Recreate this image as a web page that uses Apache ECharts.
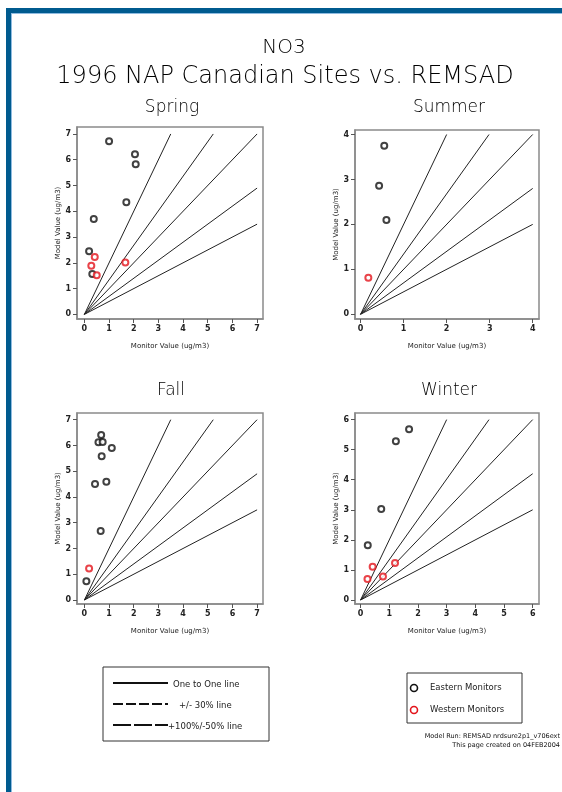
<!DOCTYPE html>
<html><head><meta charset="utf-8">
<script src="https://cdn.jsdelivr.net/npm/echarts@6/dist/echarts.min.js"></script>
<style>html,body{margin:0;padding:0;background:#fff}#c{width:562px;height:792px}</style>
</head><body><div id="c"></div>
<script>
const panelTitles = ['Spring', 'Summer', 'Fall', 'Winter'];
const panelMax = [7, 4, 7, 6];
const springTicks = [0, 1, 2, 3, 4, 5, 6, 7];
const summerTicks = [0, 1, 2, 3, 4];
const fallTicks = [0, 1, 2, 3, 4, 5, 6, 7];
const winterTicks = [0, 1, 2, 3, 4, 5, 6];
const springEast = [[1.0, 6.72], [2.05, 6.21], [2.08, 5.82], [1.70, 4.35], [0.38, 3.70], [0.19, 2.45], [0.32, 1.57]];
const springWest = [[0.42, 2.23], [0.28, 1.89], [0.50, 1.52], [1.66, 2.01]];
const summerEast = [[0.55, 3.75], [0.43, 2.86], [0.60, 2.10]];
const summerWest = [[0.18, 0.81]];
const fallEast = [[0.68, 6.41], [0.57, 6.12], [0.74, 6.13], [1.11, 5.90], [0.70, 5.58], [0.89, 4.59], [0.43, 4.50], [0.66, 2.68], [0.08, 0.73]];
const fallWest = [[0.19, 1.22]];
const winterEast = [[1.69, 5.68], [1.23, 5.28], [0.72, 3.03], [0.25, 1.82]];
const winterWest = [[0.42, 1.11], [0.24, 0.70], [0.78, 0.78], [1.20, 1.23]];
const refSlopes = [2, 1.34, 1, 0.7, 0.5];
const xAxisName = 'Monitor Value (ug/m3)';
const yAxisName = 'Model Value (ug/m3)';
const legendLineLabels = ['One to One line', '+/- 30% line', '+100%/-50% line'];
const legendMarkerLabels = ['Eastern Monitors', 'Western Monitors'];
const mainTitle = 'NO3';
const subTitle = '1996 NAP Canadian Sites vs. REMSAD';
const footLines = ['Model Run: REMSAD nrdsure2p1_v706ext', 'This page created on 04FEB2004'];

const ticks = [springTicks, summerTicks, fallTicks, winterTicks];
const east = [springEast, summerEast, fallEast, winterEast];
const west = [springWest, summerWest, fallWest, winterWest];

const grids = [
  {left: 77, top: 127, width: 186, height: 192},
  {left: 355, top: 130, width: 184, height: 189},
  {left: 77, top: 413, width: 186, height: 191},
  {left: 355, top: 413, width: 184, height: 191}
];
const xBounds = [[-0.30, 7.24], [-0.13, 4.146], [-0.30, 7.24], [-0.195, 6.22]];
const yBounds = [[-0.18, 7.27], [-0.105, 4.1], [-0.156, 7.26], [-0.133, 6.22]];
const titlePos = [[172, 108], [449, 108], [171, 391], [449, 391]];

const font = 'DejaVu Sans';
const xAxes = [], yAxes = [], series = [], graphics = [];

grids.forEach((g, i) => {
  Object.assign(g, {show: true, borderColor: '#8a8a8a', borderWidth: 1.5, containLabel: false});
  const common = {
    gridIndex: i, type: 'value',
    axisLine: {show: true, onZero: false, lineStyle: {color: '#8a8a8a', width: 1.5}},
    axisTick: {show: true, length: 4, customValues: ticks[i], lineStyle: {color: '#555', width: 1}},
    axisLabel: {customValues: ticks[i], fontSize: 8, fontWeight: 'bold', color: '#222', fontFamily: font, margin: 6},
    splitLine: {show: false},
    nameLocation: 'middle',
    nameTextStyle: {fontSize: 7, color: '#222', fontFamily: font}
  };
  xAxes.push(Object.assign({}, common, {min: xBounds[i][0], max: xBounds[i][1], name: xAxisName, nameGap: 24}));
  yAxes.push(Object.assign({}, common, {min: yBounds[i][0], max: yBounds[i][1], name: yAxisName, nameGap: 14}));
  const m = panelMax[i];
  refSlopes.forEach(s => {
    const end = s >= 1 ? [m / s, m] : [m, m * s];
    series.push({
      type: 'line', xAxisIndex: i, yAxisIndex: i, data: [[0, 0], end],
      symbol: 'none', silent: true, lineStyle: {color: '#222', width: 1}, z: 2
    });
  });
  series.push({
    type: 'scatter', xAxisIndex: i, yAxisIndex: i, data: east[i],
    symbol: 'emptyCircle', symbolSize: 6, itemStyle: {color: '#111', borderWidth: 1.4}, z: 5
  });
  series.push({
    type: 'scatter', xAxisIndex: i, yAxisIndex: i, data: west[i],
    symbol: 'emptyCircle', symbolSize: 6, itemStyle: {color: '#e3141b', borderWidth: 1.4}, z: 5
  });
  graphics.push({type: 'text', x: titlePos[i][0], y: titlePos[i][1],
    style: {text: panelTitles[i], fontSize: 17, fontFamily: font, fontWeight: 'lighter', fill: '#000', align: 'center', verticalAlign: 'middle'}});
});

// frame
graphics.push({type: 'rect', shape: {x: 6, y: 8, width: 556, height: 5}, style: {fill: '#005b8f'}});
graphics.push({type: 'rect', shape: {x: 6, y: 8, width: 5, height: 784}, style: {fill: '#005b8f'}});
graphics.push({type: 'rect', shape: {x: 11, y: 13, width: 551, height: 1}, style: {fill: '#8fbbe0'}});
graphics.push({type: 'rect', shape: {x: 11, y: 13, width: 1, height: 779}, style: {fill: '#8fbbe0'}});
// titles
graphics.push({type: 'text', x: 284, y: 48, style: {text: mainTitle, fontSize: 20, fontFamily: font, fontWeight: 'lighter', fill: '#000', align: 'center', verticalAlign: 'middle'}});
graphics.push({type: 'text', x: 285, y: 77, style: {text: subTitle, fontSize: 24, fontFamily: font, fontWeight: 'lighter', fill: '#000', align: 'center', verticalAlign: 'middle'}});
// line legend
graphics.push({type: 'rect', shape: {x: 103, y: 667, width: 166, height: 74}, style: {fill: 'none', stroke: '#333', lineWidth: 1}});
const legDash = [null, [10, 3], [18, 3]];
[683, 704, 725].forEach((yy, k) => {
  graphics.push({type: 'line', shape: {x1: 113, y1: yy, x2: 168, y2: yy}, style: {stroke: '#111', lineWidth: 2, lineDash: legDash[k]}});
  graphics.push({type: 'text', x: k === 1 ? 179 : (k === 0 ? 173 : 168), y: yy + 2, style: {text: legendLineLabels[k], fontSize: 8.5, fontFamily: font, fill: '#222', align: 'left', verticalAlign: 'middle'}});
});
// marker legend
graphics.push({type: 'rect', shape: {x: 407, y: 673, width: 115, height: 50}, style: {fill: 'none', stroke: '#333', lineWidth: 1}});
[[688, '#111'], [710, '#e3141b']].forEach((p, k) => {
  graphics.push({type: 'circle', shape: {cx: 414, cy: p[0], r: 3.5}, style: {fill: '#fff', stroke: p[1], lineWidth: 1.6}});
  graphics.push({type: 'text', x: 430, y: p[0], style: {text: legendMarkerLabels[k], fontSize: 8.5, fontFamily: font, fill: '#222', align: 'left', verticalAlign: 'middle'}});
});
// footnote
graphics.push({type: 'text', x: 560, y: 736, style: {text: footLines[0], fontSize: 6.5, fontFamily: font, fill: '#111', align: 'right', verticalAlign: 'middle'}});
graphics.push({type: 'text', x: 560, y: 745, style: {text: footLines[1], fontSize: 6.5, fontFamily: font, fill: '#111', align: 'right', verticalAlign: 'middle'}});

const chart = echarts.init(document.getElementById('c'), null, {renderer: 'canvas'});
chart.setOption({
  animation: false,
  backgroundColor: '#fff',
  grid: grids,
  xAxis: xAxes,
  yAxis: yAxes,
  series: series,
  graphic: graphics
});
</script></body></html>
